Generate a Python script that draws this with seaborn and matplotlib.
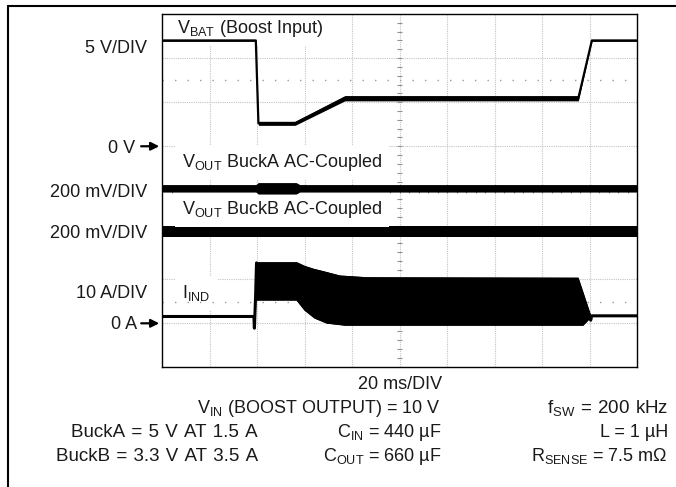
import numpy as np
import matplotlib
matplotlib.use('Agg')
import matplotlib.pyplot as plt
import seaborn as sns
from matplotlib.lines import Line2D

# ---------------- data read from the scope capture ----------------
# time in ms (20 ms/DIV, 10 divisions)
vbat_t = [0, 39.5, 40.6, 56.0, 77.0, 175.3, 181.0, 200]
vbat_v = [12.0, 12.0, 2.6, 2.6, 5.45, 5.45, 12.0, 12.0]      # V
vbat_n = [0.1, 0.1, 0.23, 0.23, 0.3, 0.3, 0.1, 0.1]         # half band, V

bucka_t = [0, 39.5, 40.5, 56.5, 58.0, 200]
bucka_v = [0, 0, 0, 0, 0, 0]                                 # mV (AC)
bucka_n = [17, 17, 26, 26, 17, 17]                           # half band, mV

buckb_t = [0, 200]
buckb_v = [2, 2]                                             # mV (AC)
buckb_n = [25, 25]

# inductor current (A): thin trace before / after, switching band between
ind_pre_t = [0, 38.7, 38.9, 39.4, 39.8]
ind_pre_v = [1.55, 1.55, -1.1, 6.0, 13.7]
ind_top_t = [39.8, 56.8, 60.0, 64.0, 67.8, 74.9, 86.3, 175.2, 180.2]
ind_top_v = [13.7, 13.7, 12.9, 12.2, 11.7, 10.7, 10.3, 10.2, 2.1]
ind_bot_t = [40.0, 56.8, 60.2, 64.4, 69.5, 77.1, 177.3, 180.2]
ind_bot_v = [5.3, 5.3, 3.0, 1.2, 0.07, -0.4, -0.4, 1.2]
ind_post_t = [180.2, 180.5, 180.9, 200]
ind_post_v = [1.7, 0.7, 1.7, 1.7]

# channel placement on the 8-division screen: (zero level in div, units per div)
CH = {'vbat': (5.0, 5.0), 'bucka': (4.046, 200.0), 'buckb': (3.055, 200.0), 'ind': (0.984, 10.0)}

def to_div(ch, vals):
    off, sc = CH[ch]
    return off + np.asarray(vals, float) / sc

# ---------------- figure ----------------
sns.set_style('white')
plt.rcParams['font.family'] = ['Liberation Sans', 'DejaVu Sans']
plt.rcParams['mathtext.default'] = 'regular'

W, H = 676, 487
fig = plt.figure(figsize=(W / 100, H / 100), dpi=100)
L, R, T, B = 162, 637, 14, 366.7
ax = fig.add_axes([L / W, 1 - B / H, (R - L) / W, (B - T) / H])
ax.set_xlim(0, 200)
ax.set_ylim(0, 8)
ax.set_xticks([]); ax.set_yticks([])
for s in ax.spines.values():
    s.set_color('black'); s.set_linewidth(1.0); s.set_zorder(10)

# graticule
gcol = '#c4c4c4'
for xv in np.arange(20, 200, 20):
    ax.axvline(xv, color=gcol, lw=0.8, ls=(0, (1, 1)), zorder=0.5)
for yv in np.arange(1, 8, 1):
    ax.axhline(yv, color=gcol, lw=0.8, ls=(0, (1, 1)), zorder=0.5)
# center-line minor ticks
ax.hlines(np.arange(0.2, 8, 0.2), 100 - 1.1, 100 + 1.1, color='#909090', lw=0.8, zorder=0.6)
ax.vlines(np.arange(4, 200, 4), 4 - 0.06, 4 + 0.06, color='#909090', lw=0.8, zorder=0.6)
# cursor dotted lines
for yv in (6.5, 1.47):
    ax.axhline(yv, color='#9a9a9a', lw=1.0, ls=(0, (1, 8)), zorder=3.5)

k = 'black'
# VBAT
vb = to_div('vbat', vbat_v)
nb = np.asarray(vbat_n) / CH['vbat'][1]
ax.fill_between(vbat_t, vb - nb, vb + nb, color=k, lw=0, zorder=5)
sns.lineplot(x=vbat_t, y=vb, ax=ax, color=k, lw=1.6, sort=False, estimator=None, zorder=5)

# BuckA
va = to_div('bucka', bucka_v)
na = np.asarray(bucka_n) / CH['bucka'][1]
ax.fill_between(bucka_t, va - na, va + na, color=k, lw=0, zorder=5)

# BuckB
vbb = to_div('buckb', buckb_v)
nbb = np.asarray(buckb_n) / CH['buckb'][1]
ax.fill_between(buckb_t, vbb - nbb, vbb + nbb, color=k, lw=0, zorder=2)

# inductor current
sns.lineplot(x=ind_pre_t, y=to_div('ind', ind_pre_v), ax=ax, color=k, lw=2.2,
             sort=False, estimator=None, zorder=5)
sns.lineplot(x=ind_post_t, y=to_div('ind', ind_post_v), ax=ax, color=k, lw=2.2,
             sort=False, estimator=None, zorder=5)
poly_x = list(ind_top_t) + list(ind_bot_t)[::-1]
poly_y = list(to_div('ind', ind_top_v)) + list(to_div('ind', ind_bot_v))[::-1]
ax.fill(poly_x, poly_y, color=k, lw=0.8, zorder=5)
sns.lineplot(x=ind_top_t, y=to_div('ind', ind_top_v), ax=ax, color=k, lw=1.0,
             sort=False, estimator=None, zorder=5)
sns.lineplot(x=ind_bot_t, y=to_div('ind', ind_bot_v), ax=ax, color=k, lw=1.0,
             sort=False, estimator=None, zorder=5)

# ---------------- text ----------------
FS = 13
def ftext(x, y, s, ha='left', fs=FS, **kw):
    return fig.text(x / W, 1 - y / H, s, ha=ha, va='baseline', fontsize=fs, color='#1a1a1a', **kw)

box = dict(facecolor='white', edgecolor='none', pad=5)
t1 = ftext(177, 33, 'V$_{BAT}$ (Boost Input)', bbox=box, zorder=3)
t2 = ftext(182, 167, 'V$_{OUT}$ BuckA AC-Coupled', bbox=box, zorder=3)
t3 = ftext(182, 214, 'V$_{OUT}$ BuckB AC-Coupled', bbox=box, zorder=3)
t4 = ftext(182, 298, 'I$_{IND}$', bbox=box, zorder=3)
# move labels into the axes so the trace z-ordering applies
for t in (t1, t2, t3, t4):
    t.remove()
    ax.add_artist(t)
    t.set_transform(fig.transFigure)
    t.set_clip_on(False)

ftext(147, 53, '5 V/DIV', ha='right')
ftext(147, 197, '200 mV/DIV', ha='right')
ftext(147, 238.5, '200 mV/DIV', ha='right')
ftext(147, 298.5, '10 A/DIV', ha='right')
ftext(135, 152.5, '0 V', ha='right')
ftext(137, 329, '0 A', ha='right')

for yd in (CH['vbat'][0], CH['ind'][0]):
    ax.annotate('', xy=(0, yd), xycoords='data', xytext=(-17, 0), textcoords='offset points',
                arrowprops=dict(arrowstyle='-|>', color='black', lw=1.6, mutation_scale=12),
                annotation_clip=False)

SP = '\u2004'
ftext(400, 389, '20 ms/DIV', ha='center')
ftext(441, 413, 'V$_{IN}$ (BOOST OUTPUT) = 10 V', ha='right')
ftext(668, 413, SP.join(['f$_{SW}$', '=', '200', 'kHz']), ha='right', fs=13.5)
ftext(258, 437, SP.join(['BuckA', '=', '5', 'V', 'AT', '1.5', 'A']), ha='right', fs=13.5)
ftext(441, 437, 'C$_{IN}$ = 440 µF', ha='right')
ftext(668, 437, 'L = 1 µH', ha='right')
ftext(258, 461, SP.join(['BuckB', '=', '3.3', 'V', 'AT', '3.5', 'A']), ha='right', fs=13.5)
ftext(441, 461, 'C$_{OUT}$ = 660 µF', ha='right')
ftext(668, 461, 'R$_{SENSE}$ = 7.5 mΩ', ha='right')

# outer frame
fig.add_artist(Line2D([8 / W, 8 / W], [0, 1 - 6 / H], color='black', lw=1.5))
fig.add_artist(Line2D([8 / W, 1], [1 - 6 / H, 1 - 6 / H], color='black', lw=1.5))

fig.savefig('out.png', dpi=100, facecolor='white')
